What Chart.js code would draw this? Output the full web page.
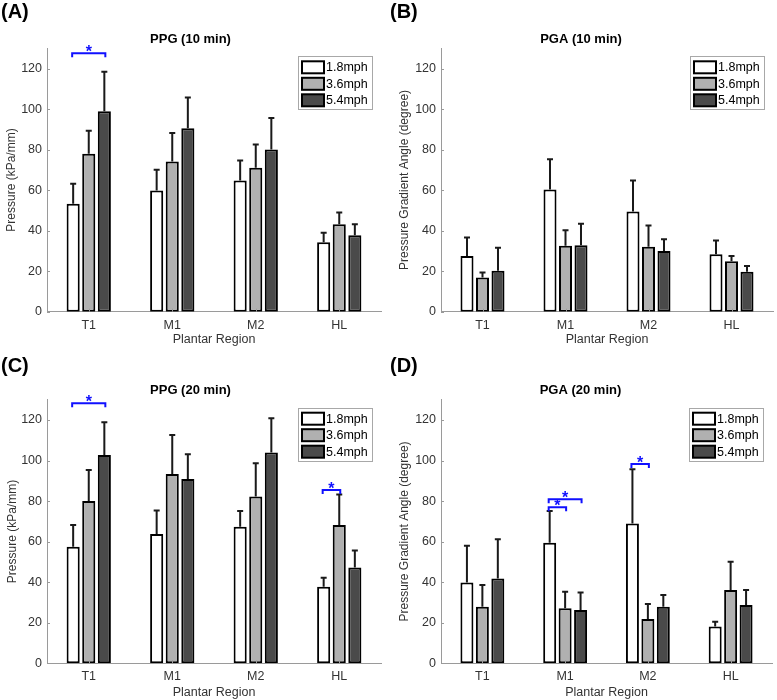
<!DOCTYPE html>
<html>
<head>
<meta charset="utf-8">
<script src="https://cdn.jsdelivr.net/npm/chart.js@4"></script>
<style>
  body { margin: 0; background: #fff; }
  #fig { position: relative; width: 777px; height: 700px; overflow: hidden; }
  canvas { position: absolute; }
  .tag { position: absolute; font: bold 20px "Liberation Sans", Arial, sans-serif; line-height: 23px; color: #000; }
</style>
</head>
<body>
<div id="fig">
  <canvas id="cA" width="389" height="350" style="left:0;top:0"></canvas>
  <canvas id="cB" width="388" height="350" style="left:389px;top:0"></canvas>
  <canvas id="cC" width="389" height="350" style="left:0;top:350px"></canvas>
  <canvas id="cD" width="388" height="350" style="left:389px;top:350px"></canvas>
  <div class="tag" style="left:1px;top:0">(A)</div>
  <div class="tag" style="left:390px;top:0">(B)</div>
  <div class="tag" style="left:1px;top:354px">(C)</div>
  <div class="tag" style="left:390px;top:354px">(D)</div>
</div>
<script>
// plantar regions and walking speeds
const regions = ['T1', 'M1', 'M2', 'HL'];
const speeds = ['1.8mph', '3.6mph', '5.4mph'];

// (A) PPG 10 min: mean and SD per speed
const ppg10Mean = [[53.3, 59.8, 64.8, 34.3], [77.9, 74.1, 71.0, 43.1], [98.9, 90.5, 80.0, 37.7]];
const ppg10Sd = [[9.8, 10.2, 9.8, 4.7], [11.4, 14.1, 11.5, 5.8], [19.5, 15.2, 15.6, 5.4]];
// (B) PGA 10 min
const pga10Mean = [[27.5, 60.3, 49.5, 28.4], [16.9, 32.5, 32.0, 24.9], [20.2, 32.8, 30.0, 19.7]];
const pga10Sd = [[9.1, 14.9, 15.3, 6.8], [2.5, 7.7, 10.6, 2.6], [11.4, 10.6, 5.7, 2.9]];
// (C) PPG 20 min
const ppg20Mean = [[57.5, 63.8, 67.4, 37.8], [80.1, 93.4, 82.2, 68.2], [102.7, 90.9, 103.9, 47.2]];
const ppg20Sd = [[10.7, 11.5, 7.7, 4.4], [15.2, 19.2, 16.4, 15.1], [16.2, 12.2, 16.9, 8.4]];
// (D) PGA 20 min
const pga20Mean = [[39.9, 59.5, 69.0, 18.1], [27.9, 27.1, 21.9, 36.2], [41.8, 26.3, 27.9, 28.8]];
const pga20Sd = [[18.1, 15.6, 26.7, 2.4], [10.7, 8.2, 7.4, 13.9], [19.4, 8.6, 5.8, 7.4]];

// significance brackets: [region, from speed, to speed, height]
const ppg10Sig = [[0, 0, 2, 127.5]];
const pga10Sig = [];
const ppg20Sig = [[0, 0, 2, 128.2], [3, 0, 1, 85.5]];
const pga20Sig = [[1, 0, 1, 77.0], [1, 0, 2, 80.9], [2, 0, 1, 98.3]];

const yTicks = [0, 20, 40, 60, 80, 100, 120];

const FONT = '"Liberation Sans", Arial, sans-serif';
const fills = ['#ffffff', '#b0b0b0', '#4a4a4a'];
const axisColor = '#9a9a9a';
const textColor = '#333333';

Chart.defaults.font.family = FONT;

const extras = {
  id: 'extras',
  afterDatasetsDraw(chart) {
    const ctx = chart.ctx;
    const ys = chart.scales.y;
    const sd = chart.options.plugins.extras.sd;
    ctx.save();
    ctx.strokeStyle = '#1a1a1a';
    ctx.lineWidth = 2;
    chart.data.datasets.forEach((ds, k) => {
      chart.getDatasetMeta(k).data.forEach((bar, i) => {
        const top = ys.getPixelForValue(ds.data[i] + sd[k][i]);
        ctx.beginPath();
        ctx.moveTo(bar.x, bar.y);
        ctx.lineTo(bar.x, top);
        ctx.moveTo(bar.x - 3, top);
        ctx.lineTo(bar.x + 3, top);
        ctx.stroke();
      });
    });
    // inward tick marks
    const ca = chart.chartArea;
    ctx.strokeStyle = axisColor;
    ctx.lineWidth = 1;
    ctx.beginPath();
    yTicks.forEach(v => {
      const y = Math.round(ys.getPixelForValue(v)) + 0.5;
      ctx.moveTo(ca.left, y);
      ctx.lineTo(ca.left + 3, y);
    });
    regions.forEach((r, i) => {
      const x = Math.round(chart.scales.x.getPixelForValue(i)) + 0.5;
      ctx.moveTo(x, ca.bottom);
      ctx.lineTo(x, ca.bottom - 3);
    });
    ctx.stroke();
    ctx.restore();
  },
  afterDraw(chart) {
    const ctx = chart.ctx;
    const ca = chart.chartArea;
    const ys = chart.scales.y;
    const sig = chart.options.plugins.extras.sig;
    ctx.save();
    // brackets
    ctx.strokeStyle = '#1010ff';
    ctx.fillStyle = '#1010ff';
    ctx.lineWidth = 2;
    sig.forEach(([r, a, b, v]) => {
      const x1 = chart.getDatasetMeta(a).data[r].x - 1;
      const x2 = chart.getDatasetMeta(b).data[r].x + 1;
      const y = ys.getPixelForValue(v);
      ctx.beginPath();
      ctx.moveTo(x1, y + 4);
      ctx.lineTo(x1, y);
      ctx.lineTo(x2, y);
      ctx.lineTo(x2, y + 4);
      ctx.stroke();
      ctx.font = 'bold 16px ' + FONT;
      ctx.textAlign = 'center';
      ctx.textBaseline = 'alphabetic';
      ctx.fillText('*', (x1 + x2) / 2, y + 4);
    });
    // legend box
    const w = 74, h = 53;
    const bx = ca.right - 9 - w, by = ca.top + 8;
    ctx.fillStyle = '#fff';
    ctx.fillRect(bx, by, w, h);
    ctx.strokeStyle = '#a8a8a8';
    ctx.lineWidth = 1;
    ctx.strokeRect(Math.round(bx) + 0.5, Math.round(by) + 0.5, w, h);
    const rows = [11, 27.5, 44];
    chart.data.datasets.forEach((ds, k) => {
      const cy = by + rows[k];
      ctx.fillStyle = ds.backgroundColor;
      ctx.fillRect(bx + 4, cy - 6, 22, 12);
      ctx.strokeStyle = '#000';
      ctx.lineWidth = 2;
      ctx.strokeRect(bx + 4, cy - 6, 22, 12);
      ctx.fillStyle = '#000';
      ctx.font = '12.5px ' + FONT;
      ctx.textAlign = 'left';
      ctx.textBaseline = 'middle';
      ctx.fillText(ds.label, bx + 28, cy + 0.5);
    });
    ctx.restore();
  }
};

function makePanel(id, title, yTitle, means, sds, sig, area) {
  const W = document.getElementById(id).width;
  const H = document.getElementById(id).height;
  return new Chart(document.getElementById(id), {
    type: 'bar',
    data: {
      labels: regions,
      datasets: speeds.map((s, k) => ({
        label: s,
        data: means[k],
        backgroundColor: fills[k],
        borderColor: '#000',
        borderWidth: 2,
        borderSkipped: false,
        categoryPercentage: 0.56,
        barPercentage: 0.84
      }))
    },
    options: {
      responsive: false,
      animation: false,
      devicePixelRatio: 1,
      layout: { padding: { left: 0, right: W - area.right, top: 0, bottom: 0 } },
      plugins: {
        legend: { display: false },
        tooltip: { enabled: false },
        title: {
          display: true,
          text: title,
          color: '#000',
          font: { size: 13, weight: 'bold' },
          padding: { top: area.titleY - 7.8, bottom: area.top - area.titleY - 7.8 }
        },
        extras: { sd: sds, sig: sig }
      },
      scales: {
        x: {
          grid: { display: false, drawTicks: false },
          border: { display: true, color: axisColor },
          ticks: { color: textColor, font: { size: 12.5 }, padding: 6 },
          title: { display: true, text: 'Plantar Region', color: textColor, font: { size: 12.5 }, padding: { top: 0, bottom: H - area.xTitleY - 7.5 } },
          afterFit(s) { s.height = H - area.bottom; }
        },
        y: {
          min: 0,
          max: 130,
          grid: { display: false, drawTicks: false },
          border: { display: true, color: axisColor },
          ticks: { stepSize: 20, color: textColor, font: { size: 12.5 }, padding: 5 },
          afterBuildTicks(s) { s.ticks = yTicks.map(v => ({ value: v })); },
          title: { display: true, text: yTitle, color: textColor, font: { size: 12 }, padding: { top: area.yTitleX - 7.2, bottom: 0 } },
          afterFit(s) { s.width = area.left; }
        }
      }
    },
    plugins: [extras]
  });
}

makePanel('cA', 'PPG (10 min)', 'Pressure (kPa/mm)', ppg10Mean, ppg10Sd, ppg10Sig,
  { left: 47, right: 381, top: 48.3, bottom: 311.7, titleY: 39, xTitleY: 340, yTitleX: 12 });
makePanel('cB', 'PGA (10 min)', 'Pressure Gradient Angle (degree)', pga10Mean, pga10Sd, pga10Sig,
  { left: 52, right: 384, top: 48.3, bottom: 311.7, titleY: 39, xTitleY: 340, yTitleX: 16 });
makePanel('cC', 'PPG (20 min)', 'Pressure (kPa/mm)', ppg20Mean, ppg20Sd, ppg20Sig,
  { left: 47, right: 381, top: 49.7, bottom: 313.3, titleY: 40.8, xTitleY: 342.5, yTitleX: 13 });
makePanel('cD', 'PGA (20 min)', 'Pressure Gradient Angle (degree)', pga20Mean, pga20Sd, pga20Sig,
  { left: 52, right: 383, top: 49.7, bottom: 313.3, titleY: 40.8, xTitleY: 342.5, yTitleX: 16 });
</script>
</body>
</html>
